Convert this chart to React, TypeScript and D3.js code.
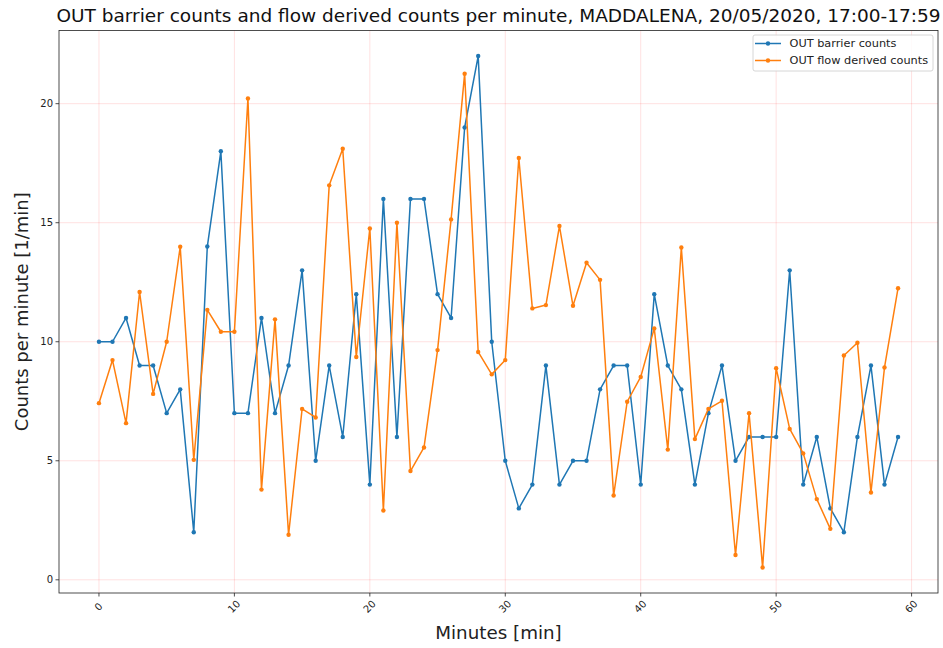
import React, { useEffect, useRef } from "react";
import * as d3 from "d3";

const minutes: number[] = d3.range(0, 60);
const barrierCounts: number[] = [
  10, 10, 11, 9, 9, 7, 8, 2, 14, 18, 7, 7, 11, 7, 9, 13, 5, 9, 6, 12,
  4, 16, 6, 16, 16, 12, 11, 19, 22, 10, 5, 3, 4, 9, 4, 5, 5, 8, 9, 9,
  4, 12, 9, 8, 4, 7, 9, 5, 6, 6, 6, 13, 4, 6, 3, 2, 6, 9, 4, 6,
];
const flowCounts: number[] = [
  7.42, 9.23, 6.58, 12.09, 7.81, 10.0, 13.99, 5.04, 11.34, 10.42,
  10.42, 20.22, 3.79, 10.94, 1.89, 7.18, 6.82, 16.57, 18.11, 9.36,
  14.76, 2.91, 15.0, 4.57, 5.56, 9.65, 15.14, 21.26, 9.57, 8.63,
  9.23, 17.72, 11.4, 11.54, 14.86, 11.51, 13.32, 12.6, 3.54, 7.48,
  8.52, 10.56, 5.47, 13.96, 5.91, 7.18, 7.52, 1.04, 7.0, 0.52,
  8.89, 6.34, 5.31, 3.39, 2.14, 9.42, 9.96, 3.67, 8.92, 12.25,
];
const xTicks: number[] = [0, 10, 20, 30, 40, 50, 60];
const yTicks: number[] = [0, 5, 10, 15, 20];
const seriesNames: string[] = ["OUT barrier counts", "OUT flow derived counts"];
const seriesColors: string[] = ["#1f77b4", "#ff7f0e"];
const title =
  "OUT barrier counts and flow derived counts per minute, MADDALENA, 20/05/2020, 17:00-17:59";

export default function App() {
  const ref = useRef<SVGSVGElement>(null);

  useEffect(() => {
    const svg = d3.select(ref.current);
    svg.selectAll("*").remove();
    const W = 943, H = 648;
    const m = { left: 59, top: 30.5, right: 938, bottom: 593 };
    const font = "DejaVu Sans, sans-serif";

    const allY = barrierCounts.concat(flowCounts);
    const yMin = d3.min(allY)!, yMax = d3.max(allY)!;
    const yPad = (yMax - yMin) * 0.05;
    const xPad = (59 - 0) * 0.05;
    const x = d3.scaleLinear().domain([0 - xPad, 59 + xPad]).range([m.left, m.right]);
    const y = d3.scaleLinear().domain([yMin - yPad, yMax + yPad]).range([m.bottom, m.top]);

    svg.append("rect").attr("width", W).attr("height", H).attr("fill", "white");

    // grid
    const grid = svg.append("g");
    xTicks.forEach((t) => {
      grid.append("line")
        .attr("x1", x(t)).attr("x2", x(t)).attr("y1", m.top).attr("y2", m.bottom)
        .attr("stroke", "red").attr("stroke-opacity", 0.12).attr("stroke-width", 1);
    });
    yTicks.forEach((t) => {
      grid.append("line")
        .attr("x1", m.left).attr("x2", m.right).attr("y1", y(t)).attr("y2", y(t))
        .attr("stroke", "red").attr("stroke-opacity", 0.12).attr("stroke-width", 1);
    });

    // series
    const seriesData = [barrierCounts, flowCounts];
    const line = d3.line<number>().x((_, i) => x(minutes[i])).y((d) => y(d));
    seriesData.forEach((data, si) => {
      const g = svg.append("g");
      g.append("path").datum(data).attr("d", line).attr("fill", "none")
        .attr("stroke", seriesColors[si]).attr("stroke-width", 1.5)
        .attr("stroke-linejoin", "round");
      g.selectAll("circle").data(data).enter().append("circle")
        .attr("cx", (_, i) => x(minutes[i])).attr("cy", (d) => y(d))
        .attr("r", 2.2).attr("fill", seriesColors[si]);
    });

    // spines
    svg.append("rect")
      .attr("x", m.left).attr("y", m.top)
      .attr("width", m.right - m.left).attr("height", m.bottom - m.top)
      .attr("fill", "none").attr("stroke", "#222").attr("stroke-width", 0.8);

    // x ticks
    xTicks.forEach((t) => {
      svg.append("line").attr("x1", x(t)).attr("x2", x(t))
        .attr("y1", m.bottom).attr("y2", m.bottom + 3.5)
        .attr("stroke", "#222").attr("stroke-width", 0.8);
      svg.append("text")
        .attr("transform", `translate(${x(t)},${m.bottom + 14}) rotate(-45)`)
        .attr("text-anchor", "middle").attr("dominant-baseline", "middle")
        .attr("font-family", font).attr("font-size", 10).attr("fill", "#222")
        .text(String(t));
    });
    // y ticks
    yTicks.forEach((t) => {
      svg.append("line").attr("x1", m.left - 3.5).attr("x2", m.left)
        .attr("y1", y(t)).attr("y2", y(t))
        .attr("stroke", "#222").attr("stroke-width", 0.8);
      svg.append("text")
        .attr("x", m.left - 6).attr("y", y(t))
        .attr("text-anchor", "end").attr("dominant-baseline", "central")
        .attr("font-family", font).attr("font-size", 10).attr("fill", "#222")
        .text(String(t));
    });

    // labels
    svg.append("text").attr("x", (m.left + m.right) / 2).attr("y", 22)
      .attr("text-anchor", "middle").attr("font-family", font).attr("font-size", 18.5)
      .attr("fill", "#111").text(title);
    svg.append("text").attr("x", (m.left + m.right) / 2).attr("y", 639)
      .attr("text-anchor", "middle").attr("font-family", font).attr("font-size", 18.3)
      .attr("fill", "#222").text("Minutes [min]");
    svg.append("text")
      .attr("transform", `translate(28,${(m.top + m.bottom) / 2}) rotate(-90)`)
      .attr("text-anchor", "middle").attr("font-family", font).attr("font-size", 18)
      .attr("fill", "#222").text("Counts per minute [1/min]");

    // legend
    const lg = svg.append("g");
    lg.append("rect").attr("x", 753).attr("y", 35).attr("width", 180).attr("height", 36)
      .attr("rx", 2).attr("fill", "white").attr("fill-opacity", 0.85)
      .attr("stroke", "#ccc").attr("stroke-width", 0.8);
    seriesNames.forEach((name, i) => {
      const yy = 43.5 + i * 17;
      lg.append("line").attr("x1", 755).attr("x2", 781).attr("y1", yy).attr("y2", yy)
        .attr("stroke", seriesColors[i]).attr("stroke-width", 1.5);
      lg.append("circle").attr("cx", 768).attr("cy", yy).attr("r", 2.2).attr("fill", seriesColors[i]);
      lg.append("text").attr("x", 789.5).attr("y", yy).attr("dominant-baseline", "central")
        .attr("font-family", font).attr("font-size", 11.3).attr("fill", "#222").text(name);
    });
  }, []);

  return (
    <svg ref={ref} width={943} height={648}
      style={{ position: "absolute", left: 0, top: 0 }} />
  );
}
